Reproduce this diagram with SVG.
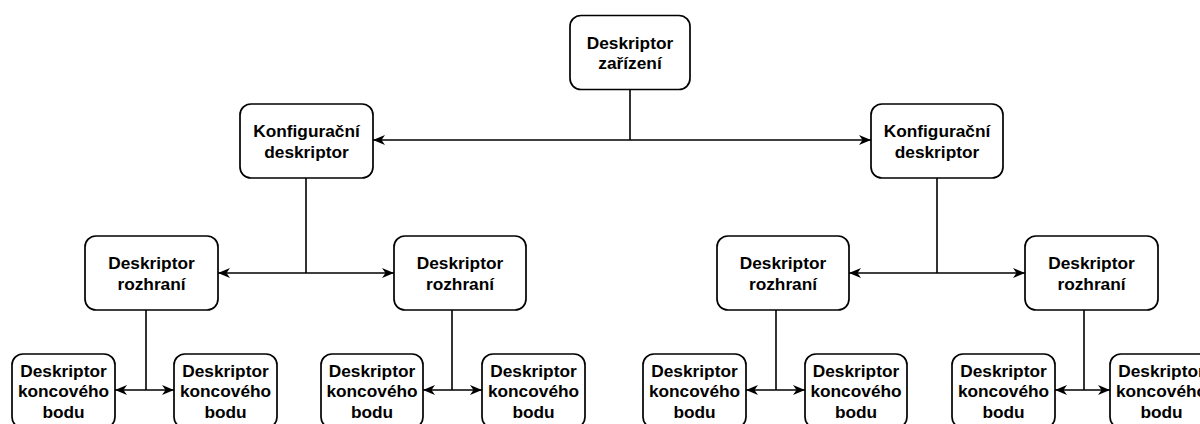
<svg xmlns="http://www.w3.org/2000/svg" width="1200" height="424" viewBox="0 0 1200 424">
<style>
.box{fill:#fff;stroke:#000;stroke-width:1.7}
.t{font-family:"Liberation Sans",Arial,Helvetica,sans-serif;font-weight:bold;font-size:17.3px;text-anchor:middle;fill:#000}
.ln{fill:none;stroke:#000;stroke-width:1.6}
.ar{fill:none;stroke:#000;stroke-width:1.6;marker-start:url(#ah);marker-end:url(#ah)}
</style>
<defs>
<marker id="ah" viewBox="0 0 12 10" refX="12" refY="5" markerWidth="12" markerHeight="10" markerUnits="userSpaceOnUse" orient="auto-start-reverse">
<path d="M0,0 L12,5 L0,10 L3.5,5 Z" fill="#000"/>
</marker>
</defs>
<rect width="1200" height="424" fill="#fff"/>
<g id="connectors">
<path class="ln" d="M630,90 V140"/>
<path class="ar" d="M373,140 H871"/>
<path class="ln" d="M306,178 V273"/>
<path class="ar" d="M218,273 H394"/>
<path class="ln" d="M937,178 V273"/>
<path class="ar" d="M849,273 H1025"/>
<path class="ln" d="M146,310 V390"/>
<path class="ar" d="M115,390 H174"/>
<path class="ln" d="M452,310 V390"/>
<path class="ar" d="M423,390 H482"/>
<path class="ln" d="M776,310 V390"/>
<path class="ar" d="M746,390 H805"/>
<path class="ln" d="M1084,310 V390"/>
<path class="ar" d="M1055,390 H1110"/>
</g>
<g id="device">
<rect class="box" x="570" y="15.5" width="120" height="74" rx="11"/>
<text class="t" x="630" y="48.5">Deskriptor</text>
<text class="t" x="630" y="69">zařízení</text>
</g>
<g id="config-left">
<rect class="box" x="240" y="104" width="133" height="74" rx="11"/>
<text class="t" x="306.5" y="137">Konfigurační</text>
<text class="t" x="306.5" y="157.5">deskriptor</text>
</g>
<g id="config-right">
<rect class="box" x="871" y="104" width="132" height="74" rx="11"/>
<text class="t" x="937" y="137">Konfigurační</text>
<text class="t" x="937" y="157.5">deskriptor</text>
</g>
<g id="iface-1">
<rect class="box" x="85" y="236" width="133" height="74" rx="11"/>
<text class="t" x="151.5" y="269">Deskriptor</text>
<text class="t" x="151.5" y="289.5">rozhraní</text>
</g>
<g id="iface-2">
<rect class="box" x="394" y="236" width="132" height="74" rx="11"/>
<text class="t" x="460" y="269">Deskriptor</text>
<text class="t" x="460" y="289.5">rozhraní</text>
</g>
<g id="iface-3">
<rect class="box" x="717" y="236" width="132" height="74" rx="11"/>
<text class="t" x="783" y="269">Deskriptor</text>
<text class="t" x="783" y="289.5">rozhraní</text>
</g>
<g id="iface-4">
<rect class="box" x="1025" y="236" width="133" height="74" rx="11"/>
<text class="t" x="1091.5" y="269">Deskriptor</text>
<text class="t" x="1091.5" y="289.5">rozhraní</text>
</g>
<g id="ep-1">
<rect class="box" x="12" y="354" width="103" height="74" rx="11"/>
<text class="t" x="63.5" y="376.5">Deskriptor</text>
<text class="t" x="63.5" y="397">koncového</text>
<text class="t" x="63.5" y="417.5">bodu</text>
</g>
<g id="ep-2">
<rect class="box" x="174" y="354" width="103" height="74" rx="11"/>
<text class="t" x="225.5" y="376.5">Deskriptor</text>
<text class="t" x="225.5" y="397">koncového</text>
<text class="t" x="225.5" y="417.5">bodu</text>
</g>
<g id="ep-3">
<rect class="box" x="321" y="354" width="102" height="74" rx="11"/>
<text class="t" x="372" y="376.5">Deskriptor</text>
<text class="t" x="372" y="397">koncového</text>
<text class="t" x="372" y="417.5">bodu</text>
</g>
<g id="ep-4">
<rect class="box" x="482" y="354" width="103" height="74" rx="11"/>
<text class="t" x="533.5" y="376.5">Deskriptor</text>
<text class="t" x="533.5" y="397">koncového</text>
<text class="t" x="533.5" y="417.5">bodu</text>
</g>
<g id="ep-5">
<rect class="box" x="643" y="354" width="103" height="74" rx="11"/>
<text class="t" x="694.5" y="376.5">Deskriptor</text>
<text class="t" x="694.5" y="397">koncového</text>
<text class="t" x="694.5" y="417.5">bodu</text>
</g>
<g id="ep-6">
<rect class="box" x="805" y="354" width="102" height="74" rx="11"/>
<text class="t" x="856" y="376.5">Deskriptor</text>
<text class="t" x="856" y="397">koncového</text>
<text class="t" x="856" y="417.5">bodu</text>
</g>
<g id="ep-7">
<rect class="box" x="952" y="354" width="103" height="74" rx="11"/>
<text class="t" x="1003.5" y="376.5">Deskriptor</text>
<text class="t" x="1003.5" y="397">koncového</text>
<text class="t" x="1003.5" y="417.5">bodu</text>
</g>
<g id="ep-8">
<rect class="box" x="1110" y="354" width="103" height="74" rx="11"/>
<text class="t" x="1161.5" y="376.5">Deskriptor</text>
<text class="t" x="1161.5" y="397">koncového</text>
<text class="t" x="1161.5" y="417.5">bodu</text>
</g>
</svg>
